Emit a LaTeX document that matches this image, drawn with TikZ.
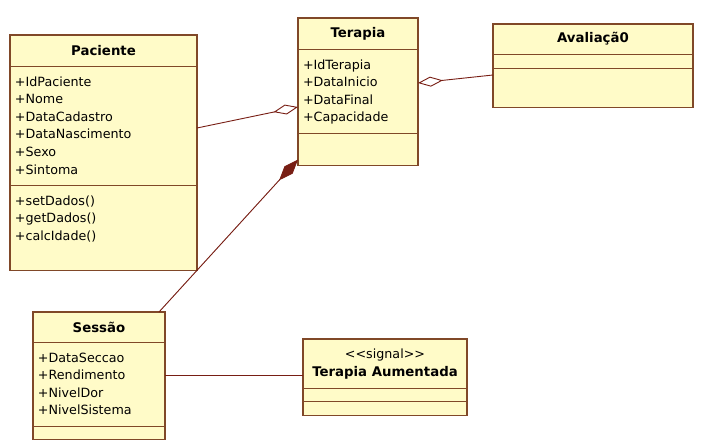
\documentclass[tikz,border=0pt]{standalone}
\usepackage{fontspec}
\setmainfont{DejaVu Sans}
\usetikzlibrary{shapes.multipart, arrows.meta}

\definecolor{classfill}{RGB}{255,251,200}
\definecolor{classline}{RGB}{128,72,40}
\definecolor{assocline}{RGB}{120,30,20}

% one compartment of a class box: width, height, content
\newcommand{\classhead}[3]{\parbox[c][#2][c]{#1}{\centering\fontsize{13.3}{18}\selectfont\bfseries#3}}
\newcommand{\classbody}[3]{\parbox[t][#2][t]{#1}{\vspace{7pt}\raggedright\leftskip=5pt\strut#3}}
\newcommand{\classgap}[2]{\parbox[c][#2][c]{#1}{\mbox{}}}

\begin{document}
\begin{tikzpicture}[x=1pt, y=-1pt, font=\fontsize{12.7}{17.6}\selectfont,
    umlclass/.style={rectangle split, rectangle split parts=3, draw=classline,
      line width=1.2pt, fill=classfill, inner sep=0pt, outer sep=0pt, anchor=north west},
    link/.style={draw=assocline, line width=0.9pt},
    aggr/.style={link, {Diamond[open, length=25pt, width=10pt]}-},
    comp/.style={link, fill=assocline, {Diamond[length=28pt, width=11pt]}-}]

  \useasboundingbox (0,0) rectangle (702,442);
  \fill[white] (0,0) rectangle (702,442);

  \node[umlclass] (Paciente) at (10,35) {\classhead{187pt}{30pt}{Paciente}
    \nodepart{two}\classbody{187pt}{118pt}{+IdPaciente\\+Nome\\+DataCadastro\\+DataNascimento\\+Sexo\\+Sintoma}
    \nodepart{three}\classbody{187pt}{84pt}{+setDados()\\+getDados()\\+calcIdade()}};

  \node[umlclass] (Terapia) at (298,18) {\classhead{120pt}{30pt}{Terapia}
    \nodepart{two}\classbody{120pt}{83pt}{+IdTerapia\\+DataInicio\\+DataFinal\\+Capacidade}
    \nodepart{three}\classgap{120pt}{31pt}};

  \node[umlclass] (Avaliacao) at (493,24) {\classhead{200pt}{29pt}{Avaliaçã0}
    \nodepart{two}\classgap{200pt}{13pt}
    \nodepart{three}\classgap{200pt}{38pt}};

  \node[umlclass] (Sessao) at (33,312) {\classhead{132pt}{29pt}{Sessão}
    \nodepart{two}\classbody{132pt}{83pt}{+DataSeccao\\+Rendimento\\+NivelDor\\+NivelSistema}
    \nodepart{three}\classgap{132pt}{12pt}};

  \node[umlclass] (Aumentada) at (303,339) {\classhead{164pt}{48pt}{{\mdseries\fontsize{12.7}{18}\selectfont<{}<signal>{}>}\\Terapia Aumentada}
    \nodepart{two}\classgap{164pt}{12pt}
    \nodepart{three}\classgap{164pt}{13pt}};

  % associations
  \draw[aggr] ([yshift=-89pt]Terapia.north west) -- ([yshift=-93pt]Paciente.north east);
  \draw[aggr] ([yshift=-65pt]Terapia.north east) -- ([yshift=-51pt]Avaliacao.north west);
  \draw[comp] ([yshift=6pt]Terapia.south west) -- ([xshift=-6pt]Sessao.north east);
  \draw[link] (Sessao.east) -- (Sessao.east -| Aumentada.west);
\end{tikzpicture}
\end{document}
